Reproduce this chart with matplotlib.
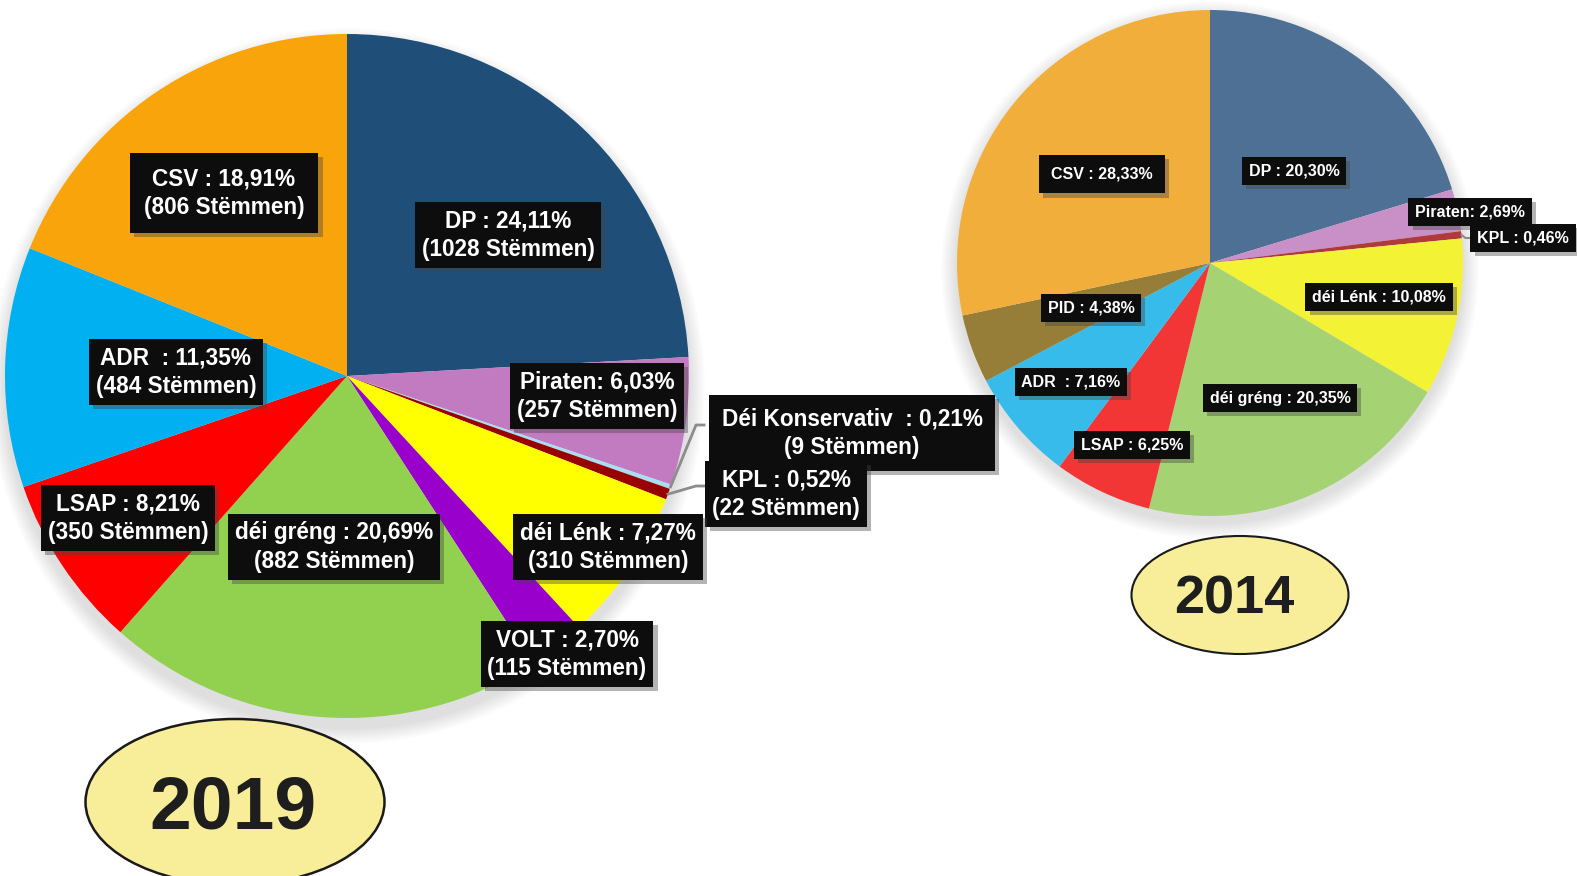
import numpy as np
import matplotlib
matplotlib.use('Agg')
import matplotlib.pyplot as plt
import matplotlib.patheffects as pe
from matplotlib.patches import Ellipse, Circle

plt.rcParams['font.family'] = ['Liberation Sans', 'DejaVu Sans']

W, H = 1577, 876

# 2019 results (clockwise from 12 o'clock)
parties_2019 = ['DP', 'Piraten', 'Déi Konservativ', 'KPL', 'déi Lénk', 'VOLT',
                'déi gréng', 'LSAP', 'ADR', 'CSV']
votes_2019 = [1028, 257, 9, 22, 310, 115, 882, 350, 484, 806]
pct_2019 = [24.11, 6.03, 0.21, 0.52, 7.27, 2.70, 20.69, 8.21, 11.35, 18.91]
colors_2019 = ['#1F4E79', '#C27BC0', '#A9DDF2', '#990000', '#FFFF00', '#9900CC',
               '#92D050', '#FF0000', '#00B0F0', '#F9A40A']

# 2014 results
parties_2014 = ['DP', 'Piraten', 'KPL', 'déi Lénk', 'déi gréng', 'LSAP', 'ADR', 'PID', 'CSV']
pct_2014 = [20.30, 2.69, 0.46, 10.08, 20.35, 6.25, 7.16, 4.38, 28.33]
colors_2014 = ['#4E7095', '#C990C8', '#B03A3A', '#F4F234', '#A5D272', '#F23535',
               '#37BBEA', '#967E38', '#F2AE3B']

# separators as they appear in the original labels
sep = {'Piraten': ': ', 'ADR': '  : ', 'Déi Konservativ': '  : '}

# label box centres (pixels from top-left)
pos_2019 = [(508, 235), (597, 396), (852, 433), (786, 494), (608, 547), (567, 654),
            (334, 547), (128, 518), (176, 372), (224, 193)]
pos_2014 = [(1294, 171), (1470, 212), (1523, 238), (1379, 297), (1280, 398),
            (1132, 445), (1071, 382), (1091, 308), (1102, 174)]

c19, r19 = (347, 376), 342
c14, r14 = (1210, 263), 253


def fmt(v):
    return f'{v:.2f}'.replace('.', ',') + '%'


def soft_shadow(ax, c, r, dy):
    for k in range(16):
        ax.add_patch(Circle((c[0], c[1] + dy), r + 16 - k, fc='black',
                            ec='none', alpha=0.009, zorder=0))


def label(ax, x, y, s, fs, pad, ls):
    t = ax.text(x, y, s, ha='center', va='center', color='white', fontsize=fs,
                fontweight='bold', linespacing=ls, zorder=6,
                bbox=dict(boxstyle=f'square,pad={pad}', fc='#0D0D0D', ec='none'))
    t.get_bbox_patch().set_path_effects([
        pe.SimplePatchShadow(offset=(3, -3), shadow_rgbFace='#444444', alpha=0.4),
        pe.Normal()])
    return t


def edge_point(w):
    a = np.deg2rad((w.theta1 + w.theta2) / 2)
    return w.center[0] + w.r * np.cos(a), w.center[1] + w.r * np.sin(a)


fig = plt.figure(figsize=(W / 100, H / 100), dpi=100)
ax = fig.add_axes([0, 0, 1, 1])

soft_shadow(ax, c19, r19, 10)
soft_shadow(ax, c14, r14, 7)

# y axis is inverted below, so startangle=270 + counterclock draws clockwise from the top
w19, _ = ax.pie(votes_2019, colors=colors_2019, startangle=270, counterclock=True,
                center=c19, radius=r19, wedgeprops=dict(linewidth=0))
w14, _ = ax.pie(pct_2014, colors=colors_2014, startangle=270, counterclock=True,
                center=c14, radius=r14, wedgeprops=dict(linewidth=0))

pads_2019 = {'Déi Konservativ': 0.55, 'CSV': 0.62}
for name, v, p, (x, y) in zip(parties_2019, votes_2019, pct_2019, pos_2019):
    s = f'{name}{sep.get(name, " : ")}{fmt(p)}\n({v} Stëmmen)'
    label(ax, x, y, s, 16.3, pads_2019.get(name, 0.3), 1.32)

for name, p, (x, y) in zip(parties_2014, pct_2014, pos_2014):
    s = f'{name}{sep.get(name, " : ")}{fmt(p)}'
    pad = 0.75 if name == 'CSV' else 0.42
    label(ax, x, y, s, 11.5, pad, 1.2)

# leader lines for the thin slices
for i, bx in [(2, 704), (3, 704)]:
    ex, ey = edge_point(w19[i])
    by = pos_2019[i][1] - 8
    ax.plot([bx, bx - 8, ex], [by, by, ey], color='#8C8C8C', lw=2, zorder=5)
ex, ey = edge_point(w14[2])
ax.plot([ex, ex + 4, 1470], [ey, pos_2014[2][1], pos_2014[2][1]], color='#8C8C8C',
        lw=1.5, zorder=5)

# year badges
ax.add_patch(Ellipse((235, 802), 299, 166, fc='#F8EE9A', ec='#1A1A1A', lw=1.8, zorder=3))
ax.text(233, 809, '2019', ha='center', va='center', fontsize=54, fontweight='bold',
        color='#1E1E1E', zorder=4)
ax.add_patch(Ellipse((1240, 595), 217, 118, fc='#F8EE9A', ec='#1A1A1A', lw=1.5, zorder=3))
ax.text(1234, 600, '2014', ha='center', va='center', fontsize=39, fontweight='bold',
        color='#1E1E1E', zorder=4)

ax.set_xlim(0, W)
ax.set_ylim(H, 0)
ax.set_aspect('auto')
ax.axis('off')

fig.savefig('out.png', dpi=100, facecolor='white')
